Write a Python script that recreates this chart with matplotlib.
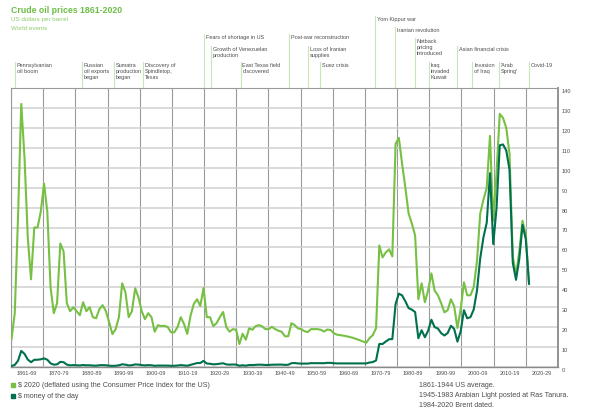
import matplotlib.pyplot as plt
import matplotlib.transforms as mtransforms
import numpy as np

plt.rcParams['font.family'] = ['Liberation Sans', 'DejaVu Sans']

# data: BP-style crude oil prices, US dollars per barrel
years = np.arange(1861, 2021)
usd_2020 = [
    14, 27, 75, 132, 105, 65, 44, 70, 70,                       # 1861-69
    78, 92, 78, 40, 27, 32, 62, 58, 32, 28,                     # 1870-79
    30, 28, 26, 32.5, 28, 30, 25, 24.5, 29, 31,                 # 1880-89
    28, 22.5, 16.5, 19, 25, 42, 37.5, 25, 28, 39.5,             # 1890-99
    35, 28, 24, 27, 25, 17.7, 21, 20.5, 20.7, 20,               # 1900-09
    17.4, 17.4, 20, 25, 21.6, 16.6, 25.7, 31.6, 34, 30.6,       # 1910-19
    39.6, 25, 25, 20.5, 22, 25, 27.6, 20, 17.7, 19,             # 1920-29
    18.7, 11.5, 16.7, 13.7, 19.4, 18.7, 20.5, 21, 20.4, 19,     # 1930-39
    19, 20.2, 19, 18.2, 17.7, 15.4, 15.4, 22, 21, 19.4,         # 1940-49
    19, 18, 17.5, 19, 19, 19, 18.7, 17.8, 18.8, 18.6,           # 1950-59
    17, 16.2, 16, 15.7, 15.4, 15, 14.6, 14, 13.4, 12.8,         # 1960-69
    12.2, 14.5, 16, 19.5, 61, 55, 57.5, 59, 55.5, 112,          # 1970-79
    115, 102, 90, 77, 72, 66, 34, 42, 32.5, 38.5,               # 1980-89
    47, 38.3, 36, 32, 27.4, 28.5, 34, 30.4, 19.6, 29,           # 1990-99
    42.5, 36, 36, 40, 53, 77, 84, 90, 116, 73.5,                # 2000-09
    97, 127, 125, 120, 107, 55.5, 46, 58, 73.4, 66,             # 2010-19
    41.6,                                                       # 2020
]
usd_money = [
    0.49, 1.05, 3.15, 8.06, 6.59, 3.74, 2.41, 3.63, 3.64,
    3.86, 4.34, 3.64, 1.83, 1.17, 1.35, 2.56, 2.42, 1.19, 0.86,
    0.95, 0.86, 0.78, 1.00, 0.84, 0.88, 0.71, 0.67, 0.88, 0.94,
    0.87, 0.67, 0.56, 0.64, 0.84, 1.36, 1.18, 0.79, 0.91, 1.29,
    1.19, 0.96, 0.80, 0.94, 0.86, 0.62, 0.73, 0.72, 0.72, 0.70,
    0.61, 0.61, 0.74, 0.95, 0.81, 0.64, 1.10, 1.56, 1.98, 2.01,
    3.07, 1.73, 1.61, 1.34, 1.43, 1.68, 1.88, 1.30, 1.17, 1.27,
    1.19, 0.65, 0.87, 0.67, 1.00, 0.97, 1.09, 1.18, 1.13, 1.02,
    1.02, 1.14, 1.19, 1.20, 1.21, 1.05, 1.12, 1.90, 1.99, 1.78,
    1.71, 1.71, 1.71, 1.93, 1.93, 1.93, 1.93, 1.90, 2.08, 2.08,
    1.90, 1.80, 1.80, 1.80, 1.80, 1.80, 1.80, 1.80, 1.80, 1.80,
    1.80, 2.24, 2.48, 3.29, 11.58, 11.53, 12.80, 13.92, 14.02, 31.61,
    36.83, 35.93, 32.97, 29.55, 28.78, 27.56, 14.43, 18.44, 14.92, 18.23,
    23.73, 20.00, 19.32, 16.97, 15.82, 17.02, 20.67, 19.09, 12.72, 17.97,
    28.50, 24.44, 25.02, 28.83, 38.27, 54.52, 65.14, 72.39, 97.26, 61.67,
    79.50, 111.26, 111.67, 108.66, 98.95, 52.39, 43.73, 54.19, 71.31, 64.21,
    41.84,
]
decade_labels = ['1861-69'] + ['%d-%s' % (d, str(d + 9)[2:]) for d in range(1870, 2030, 10)]
y_ticks = list(range(0, 150, 10))

event_years = [1862.1, 1882.6, 1892.6, 1901.5, 1920.2, 1922.3, 1931.4, 1946.2,
               1952.2, 1955.8, 1972.8, 1978.8, 1985.0, 1989.3, 1998.0, 2002.6,
               2010.9, 2020.0]
event_labels = ['Pennsylvanian\noil boom', 'Russian\noil exports\nbegan',
                'Sumatra\nproduction\nbegan', 'Discovery of\nSpindletop,\nTexas',
                'Fears of shortage in US', 'Growth of Venezuelan\nproduction',
                'East Texas field\ndiscovered', 'Post-war reconstruction',
                'Loss of Iranian\nsupplies', 'Suez crisis', 'Yom Kippur war',
                'Iranian revolution', 'Netback\npricing\nintroduced',
                'Iraq\ninvaded\nKuwait', 'Asian financial crisis',
                'Invasion\nof Iraq', "'Arab\nSpring'", 'Covid-19']
# top of each label, in pixels from the top of the figure
event_tops = [63, 63, 63, 63, 35.3, 46.7, 63, 35.3, 46.7, 63, 17.3, 28.3, 39,
              63, 46.7, 63, 63, 63]

light = '#76c043'
dark = '#00704e'
grey_txt = '#4d4d4d'

W, H = 593, 410
fig = plt.figure(figsize=(W / 100, H / 100), dpi=100)
ax = fig.add_axes([11 / W, 42 / H, 547 / W, 279 / H])

px_per_year = 3.255
xmin = 1861 - 0.5 / px_per_year
xmax = 1861 + 546.5 / px_per_year
ax.set_xlim(xmin, xmax)
ax.set_ylim(0, 140)

ax.plot(years, usd_2020, color=light, lw=1.5, solid_joinstyle='round', zorder=3)
ax.plot(years, usd_money, color=dark, lw=1.5, solid_joinstyle='round', zorder=4)

# decade cells
edges = np.linspace(xmin, xmax, 18)
ax.set_xticks(edges)
ax.set_xticklabels([])
ax.set_xticks((edges[:-1] + edges[1:]) / 2, decade_labels, minor=True)
ax.tick_params(axis='x', which='both', length=0, pad=2.5, labelsize=4, labelcolor=grey_txt)
ax.xaxis.grid(True, which='major', color='#9a9a9a', lw=0.8)

ax.yaxis.tick_right()
ax.set_yticks(y_ticks)
ax.tick_params(axis='y', length=0, pad=2.5, labelsize=4, labelcolor=grey_txt)
for lbl in ax.get_yticklabels():
    lbl.set_verticalalignment('top')
ax.yaxis.grid(True, color='#cfcfcf', lw=1.1)
ax.set_axisbelow(True)

for side in ['left', 'top']:
    ax.spines[side].set_color('#9a9a9a')
    ax.spines[side].set_linewidth(0.8)
ax.spines['right'].set_color('#8a8a8a')
ax.spines['right'].set_linewidth(1.3)
ax.spines['bottom'].set_color('#8a8a8a')
ax.spines['bottom'].set_linewidth(1.0)

# world events
blend = mtransforms.blended_transform_factory(ax.transData, fig.transFigure)
text_tr = mtransforms.offset_copy(blend, fig=fig, x=1.7, y=0, units='dots')
ax_top = (42 + 279) / H
for yr, lab, top in zip(event_years, event_labels, event_tops):
    yt = 1 - top / H
    ax.plot([yr, yr], [ax_top, yt], transform=blend, color='#c9e6b4', lw=0.8,
            clip_on=False, zorder=1)
    ax.text(yr, yt, lab, transform=text_tr, ha='left', va='top', fontsize=4,
            color=grey_txt, linespacing=1.25)

# titles
fig.text(11 / W, 1 - 10.7 / H, 'Crude oil prices 1861-2020', fontsize=6.3,
         fontweight='bold', color='#6cbd45', va='center')
fig.text(11 / W, 1 - 20 / H, 'US dollars per barrel', fontsize=4.5, color='#8dcb6a', va='center')
fig.text(11 / W, 1 - 28.3 / H, 'World events', fontsize=4.5, color='#8dcb6a', va='center')

# legend
for i, (c, lab) in enumerate([(light, '$ 2020 (deflated using the Consumer Price Index for the US)'),
                              (dark, '$ money of the day')]):
    yc = 1 - (386 + 11 * i) / H
    fig.patches.append(plt.Rectangle((11 / W, yc - 2 / H), 4 / W, 4 / H, color=c,
                                     transform=fig.transFigure))
    fig.text(18.5 / W, yc, lab, fontsize=5.1, color=grey_txt, va='center')

notes = ['1861-1944 US average.', '1945-1983 Arabian Light posted at Ras Tanura.',
         '1984-2020 Brent dated.']
for i, n in enumerate(notes):
    fig.text(419 / W, 1 - (385.5 + 9.8 * i) / H, n, fontsize=5.1, color=grey_txt, va='center')

fig.savefig('out.png', dpi=100)
